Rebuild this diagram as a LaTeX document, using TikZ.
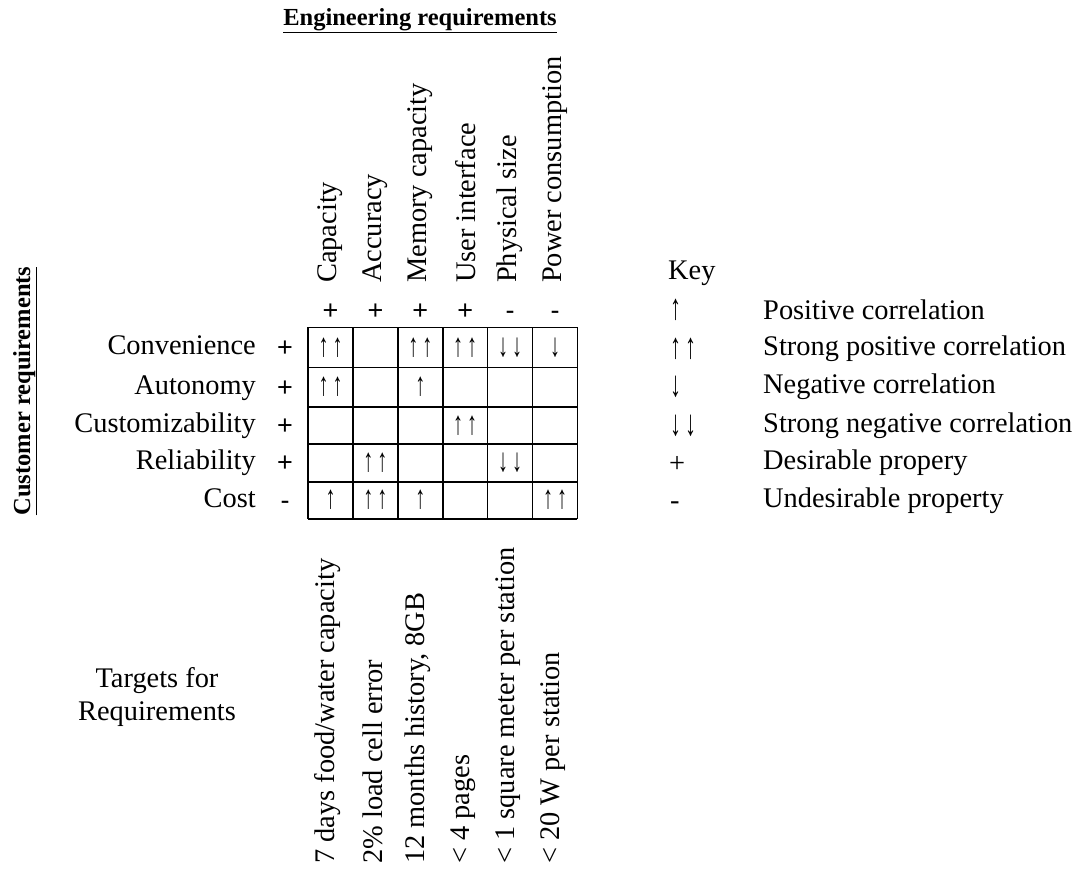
\documentclass[tikz,border=0pt]{standalone}
\usepackage{fontspec}
\setmainfont{Liberation Serif}
\newfontfamily\sansfam{Liberation Sans}
% tall, narrow arrow glyphs
\newcommand{\tallarr}[1]{\scalebox{1}[1.65]{#1}}
\newcommand{\up}{\tallarr{↑}}
\newcommand{\dn}{\tallarr{↓}}
\newcommand{\upup}{\tallarr{↑}\hspace{4pt}\tallarr{↑}}
\newcommand{\dndn}{\tallarr{↓}\hspace{4pt}\tallarr{↓}}
\begin{document}
\begin{tikzpicture}[x=1pt,y=-1pt,
  lbl/.style={inner sep=0pt, font=\fontsize{28.4}{34}\selectfont},
  ttl/.style={inner sep=0pt, font=\fontsize{24.5}{29}\selectfont\bfseries},
  sgn/.style={inner sep=0pt, anchor=base, font=\sansfam\fontsize{27}{32}\selectfont},
  cell/.style={inner sep=0pt, font=\sansfam\fontsize{20}{24}\selectfont},
  keyarr/.style={inner sep=0pt, anchor=west, font=\sansfam\fontsize{22}{26}\selectfont},
  keysgn/.style={inner sep=0pt, anchor=base west, font=\fontsize{28.4}{34}\selectfont},
  gridline/.style={line width=1.6pt}]
\useasboundingbox (0,0) rectangle (1081,871);

% titles
\node[ttl, anchor=base] (eng) at (420,25) {\underline{Engineering requirements}};
\node[ttl, anchor=base, rotate=90] (cust) at (30,391) {\underline{Customer requirements}};

% grid
\foreach \x in {308,352.9,397.8,442.7,487.6,532.5,577.4}
  \draw[gridline] (\x,327.3) -- (\x,518.7);
\foreach \y in {327.3,367.3,407,444,481.7,518.7}
  \draw[gridline] (308,\y) -- (577.4,\y);

% engineering requirement headers and their signs
\foreach \c/\t/\s [count=\i] in {330.5/Capacity/+, 375.4/Accuracy/+, 420.3/Memory capacity/+,
    465.2/User interface/+, 510/Physical size/-, 555/Power consumption/-} {
  \node[lbl, rotate=90, anchor=west] (eh\i) at (\c,283) {\t};
  \node[sgn] (es\i) at (\c,319) {\s};
}

% customer requirement rows and their signs
\foreach \y/\t/\s [count=\i] in {347.3/Convenience/+, 387.2/Autonomy/+, 425.5/Customizability/+,
    462.9/Reliability/+, 500.2/Cost/-} {
  \node[lbl, anchor=base east] (cr\i) at (256,\y+7) {\t};
  \node[sgn] (cs\i) at (285,\y+9) {\s};
}

% correlation matrix entries
\node[cell] (m11) at (330.5,347.3) {\upup};
\node[cell] (m13) at (420.3,347.3) {\upup};
\node[cell] (m14) at (465.2,347.3) {\upup};
\node[cell] (m15) at (510,347.3) {\dndn};
\node[cell] (m16) at (555,347.3) {\dn};
\node[cell] (m21) at (330.5,387.2) {\upup};
\node[cell] (m23) at (420.3,387.2) {\up};
\node[cell] (m34) at (465.2,425.5) {\upup};
\node[cell] (m42) at (375.4,462.9) {\upup};
\node[cell] (m45) at (510,462.9) {\dndn};
\node[cell] (m51) at (330.5,500.2) {\up};
\node[cell] (m52) at (375.4,500.2) {\upup};
\node[cell] (m53) at (420.3,500.2) {\up};
\node[cell] (m56) at (555,500.2) {\upup};

% targets
\foreach \c/\t [count=\i] in {328/{7 days food/water capacity}, 373/{2\% load cell error},
    418/{12 months history, 8GB}, 463/{< 4 pages}, 508/{< 1 square meter per station},
    553/{< 20 W per station}}
  \node[lbl, rotate=90, anchor=west] (tg\i) at (\c,864) {\t};

\node[lbl, align=center] (tgt) at (157,697) {Targets for\\[-1pt]Requirements};

% key
\node[lbl, anchor=west] (key) at (668,273) {Key};
\foreach \y/\s/\t [count=\i] in {310/\up/Positive correlation, 349/\upup/Strong positive correlation,
    387/\dn/Negative correlation, 425.5/\dndn/Strong negative correlation} {
  \node[keyarr] (ks\i) at (670,\y) {\s};
  \node[lbl, anchor=west] (kt\i) at (763,\y) {\t};
}
\node[keysgn] (ks5) at (669,472) {+};
\node[lbl, anchor=west] (kt5) at (763,463) {Desirable propery};
\node[keysgn] (ks6) at (670,509) {-};
\node[lbl, anchor=west] (kt6) at (763,500.5) {Undesirable property};
\end{tikzpicture}
\end{document}
